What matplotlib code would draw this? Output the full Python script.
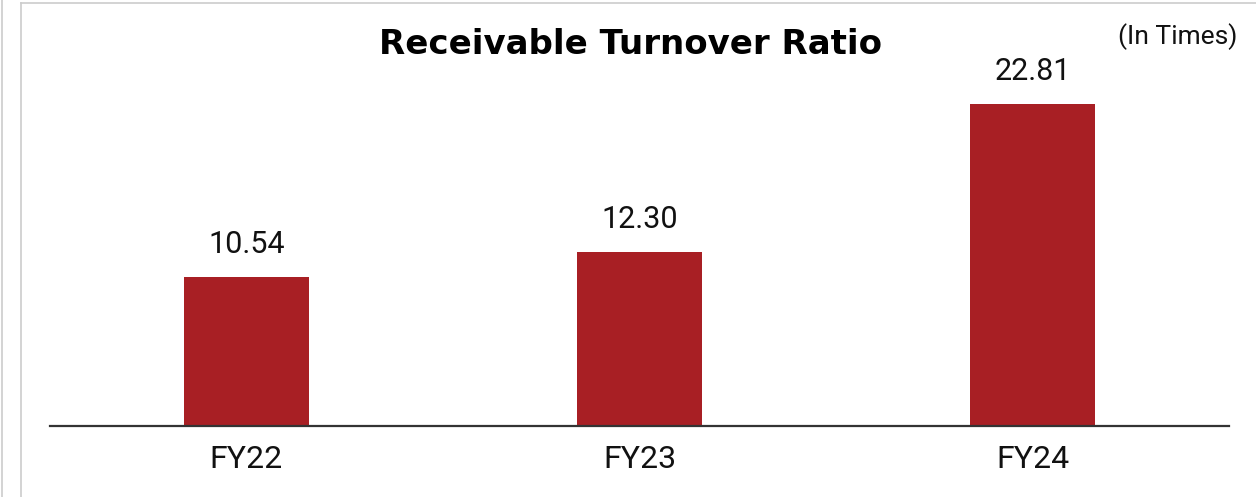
import matplotlib.pyplot as plt
from matplotlib.lines import Line2D

categories = ["FY22", "FY23", "FY24"]
ratios = [10.54, 12.30, 22.81]

W, H = 1256, 497
BAR_COLOR = "#a81f24"
FRAME_COLOR = "#cccccc"

fig = plt.figure(figsize=(W / 100, H / 100), dpi=100)
fig.patch.set_facecolor("white")


def px_x(x):
    return x / W


def px_y(y):
    return 1 - y / H


# panel outline
fig.add_artist(Line2D([px_x(1.5), px_x(1.5)], [0, 1], color=FRAME_COLOR, lw=1.2))
fig.add_artist(Line2D([px_x(20.5), px_x(20.5)], [0, px_y(2.5)], color=FRAME_COLOR, lw=1.2))
fig.add_artist(Line2D([px_x(20.5), 1], [px_y(2.5), px_y(2.5)], color=FRAME_COLOR, lw=1.2))

ax_top = 59
ax = fig.add_axes([px_x(50), px_y(426), px_x(1229 - 50), (426 - ax_top) / H])
ax.set_facecolor("none")

x = range(len(categories))
bars = ax.bar(x, ratios, width=0.316, color=BAR_COLOR, zorder=2)
ax.set_xlim(-0.5, 2.5)
ax.set_ylim(0, 26)

for rect, val in zip(bars, ratios):
    ax.annotate(f"{val:.2f}", (rect.get_x() + rect.get_width() / 2, val),
                xytext=(0, 13), textcoords="offset points", ha="center", va="bottom",
                fontsize=22, family="Roboto", color="#111111")

for side in ["top", "right", "left"]:
    ax.spines[side].set_visible(False)
ax.spines["bottom"].set_color("#333333")
ax.spines["bottom"].set_linewidth(1.6)
ax.spines["bottom"].set_zorder(3)
ax.set_yticks([])
ax.set_xticks(list(x))
ax.set_xticklabels(categories, fontsize=23, family="Roboto", color="#111111")
ax.tick_params(axis="x", length=0, pad=14)

fig.text(px_x(630), px_y(44), "Receivable Turnover Ratio", ha="center", va="center",
         fontsize=24.5, family="DejaVu Sans", weight="bold", color="black")
fig.text(px_x(1237), px_y(37), "(In Times)", ha="right", va="center",
         fontsize=19, family="Roboto", color="#111111")

fig.savefig("out.png", dpi=100, facecolor="white")
